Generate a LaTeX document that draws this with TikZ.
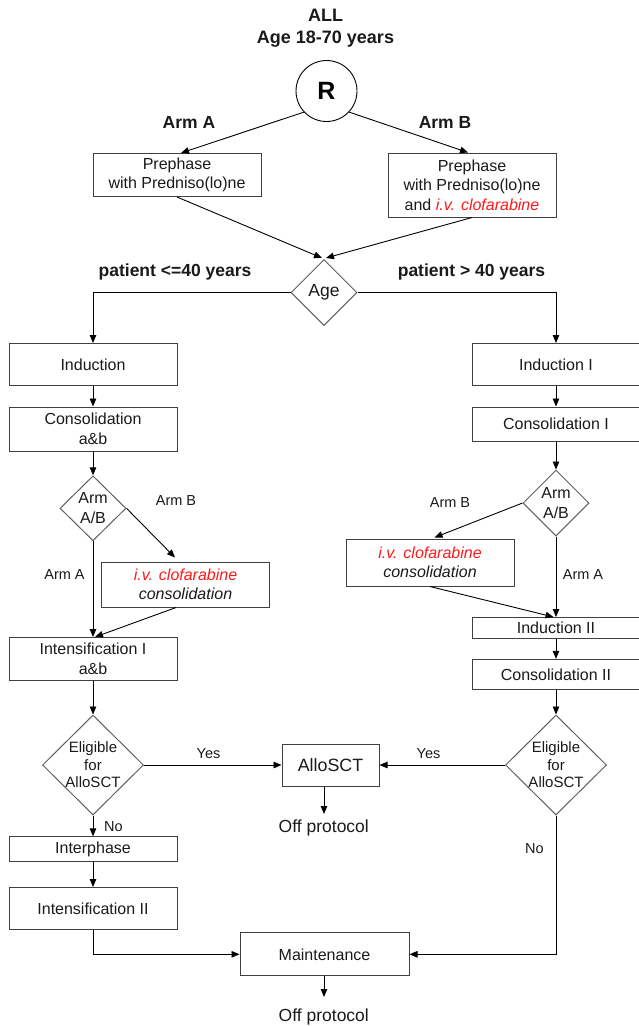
\documentclass[tikz,border=0pt]{standalone}
\usepackage{fontspec}
\setmainfont{Liberation Sans}
\usetikzlibrary{arrows.meta,shapes.geometric,calc}
\definecolor{edge}{HTML}{404040}
\definecolor{dedge}{HTML}{606060}
\definecolor{txt}{HTML}{1A1A1A}
\definecolor{clo}{HTML}{FF1A1A}
\begin{document}
\begin{tikzpicture}[x=1pt,y=-1pt,
  box/.style={draw=edge, line width=1pt, inner sep=0pt, align=center, text=txt,
    minimum width=168pt, font=\fontsize{16}{19.5}\selectfont},
  dia/.style={diamond, draw=dedge, line width=1pt, inner sep=0pt},
  dtext/.style={align=center, text=txt, inner sep=0pt},
  arr/.style={-{Triangle[length=8pt,width=6.5pt]}, line width=0.9pt, draw=black},
  lab/.style={text=txt, inner sep=0pt, font=\fontsize{14.5}{17}\selectfont},
  blab/.style={text=txt, inner sep=0pt, font=\bfseries\fontsize{17.5}{21}\selectfont},
  offp/.style={text=txt, inner sep=0pt, font=\fontsize{17.5}{21}\selectfont}]
\useasboundingbox (0,0) rectangle (638,1026);
\fill[white] (0,0) rectangle (638,1026);

% title
\node[blab, align=center, font=\bfseries\fontsize{18}{21.5}\selectfont] (title) at (325.5,28) {ALL\\Age 18-70 years};

% randomisation
\node[circle, draw=black, line width=0.9pt, minimum size=61pt, inner sep=0pt,
  text=black, font=\bfseries\fontsize{25}{30}\selectfont] (R) at (326.5,91) {R};
\node[blab] (armA) at (189,122) {Arm A};
\node[blab] (armB) at (445,122) {Arm B};

\node[box, minimum height=43pt] (preA) at (177,175) {Prephase\\with Predniso(lo)ne};
\node[box, minimum height=64pt] (preB) at (472,185) {Prephase\\with Predniso(lo)ne\\and \textcolor{clo}{\itshape i.v. clofarabine}};

\draw[arr] (R.223) -- ($(preA.north)+(4,0)$);
\draw[arr] (R.-43) -- ($(preB.north)+(-4,0)$);

% age split
\node[dia, minimum width=66pt, minimum height=66pt,
  label={[dtext, font=\fontsize{17.5}{21}\selectfont]center:Age}] (age) at (324,292.5) {};
\draw[arr] (preA.south) -- ($(age.north)+(-2,-1)$);
\draw[arr] (preB.south) -- ($(age.north)+(2,-1)$);
\node[blab] (young) at (175,271.5) {patient <=40 years};
\node[blab] (old) at (471.5,271.5) {patient > 40 years};

% left branch
\node[box, minimum height=42pt] (ind) at (93,364.5) {Induction};
\node[box, minimum height=44pt] (consab) at (93,429) {Consolidation\\a\&b};
\node[dia, minimum width=66pt, minimum height=65pt,
  label={[dtext, font=\fontsize{16}{19.7}\selectfont]center:Arm\\A/B}] (armL) at (93,508.3) {};
\node[box, minimum height=45pt, font=\itshape\fontsize{16}{19.5}\selectfont] (clofL) at (185.5,584.5) {\textcolor{clo}{i.v. clofarabine}\\consolidation};
\node[box, minimum height=43pt] (intI) at (93,659) {Intensification I\\a\&b};
\node[dia, minimum width=101pt, minimum height=100pt,
  label={[dtext, font=\fontsize{15}{17.5}\selectfont]center:Eligible\\for\\AlloSCT}] (eligL) at (93,765) {};
\node[box, minimum height=25pt] (interph) at (93,849.3) {Interphase};
\node[box, minimum height=42pt] (intII) at (93,908.5) {Intensification II};

\draw[arr] (age.west) -| (ind.north);
\draw[arr] (ind) -- (consab);
\draw[arr] (consab) -- (armL.north);
\draw[arr] (armL.east) -- ($(clofL.north)+(-10.5,-4)$);
\node[lab] (lArmB) at (176,501) {Arm B};
\draw[arr] (armL.south) -- (intI.north);
\node[lab] (lArmA) at (64.5,575) {Arm A};
\draw[arr] ($(clofL.south)+(-9.5,0)$) -- ($(intI.north)+(2,0)$);
\draw[arr] (intI) -- (eligL.north);
\draw[arr] (eligL.south) -- (interph.north);
\node[lab] (lNo) at (113.5,827) {No};
\draw[arr] (interph) -- (intII);

% right branch
\node[box, minimum height=42pt] (indI) at (556,364.5) {Induction I};
\node[box, minimum height=34pt] (consI) at (556,424) {Consolidation I};
\node[dia, minimum width=66pt, minimum height=66pt,
  label={[dtext, font=\fontsize{16}{19.7}\selectfont]center:Arm\\A/B}] (armR) at (556,503) {};
\node[box, minimum height=47pt, font=\itshape\fontsize{16}{19.5}\selectfont] (clofR) at (430,562.5) {\textcolor{clo}{i.v. clofarabine}\\consolidation};
\node[box, minimum height=21pt] (indII) at (556,628) {Induction II};
\node[box, minimum height=30pt] (consII) at (556,674.3) {Consolidation II};
\node[dia, minimum width=101pt, minimum height=100pt,
  label={[dtext, font=\fontsize{15}{17.5}\selectfont]center:Eligible\\for\\AlloSCT}] (eligR) at (556,765) {};

\draw[arr] (age.east) -| (indI.north);
\draw[arr] (indI) -- (consI);
\draw[arr] (consI) -- (armR.north);
\draw[arr] (armR.west) -- ($(clofR.north)+(4.5,-1)$);
\node[lab] (rArmB) at (450,502.5) {Arm B};
\draw[arr] (armR.south) -- (indII.north);
\node[lab] (rArmA) at (583,575) {Arm A};
\draw[arr] (clofR.south) -- ($(indII.north)+(-2.5,0)$);
\draw[arr] (indII) -- (consII);
\draw[arr] (consII) -- (eligR.north);

% AlloSCT
\node[box, minimum width=97pt, minimum height=42pt, font=\fontsize{17.8}{21}\selectfont] (allo) at (330.5,765) {AlloSCT};
\draw[arr] (eligL.east) -- (allo.west);
\node[lab] (yesL) at (208.5,754) {Yes};
\draw[arr] (eligR.west) -- (allo.east);
\node[lab] (yesR) at (428.5,754) {Yes};
\coordinate (offA) at (324,814);
\draw[arr] (allo.south -| offA) -- (offA);
\node[offp] (off1) at (323.8,827.5) {Off protocol};

% Maintenance
\node[box, minimum width=169pt, minimum height=43pt] (maint) at (324.5,954.3) {Maintenance};
\draw[arr] (intII.south) |- (maint.west);
\draw[arr] (eligR.south) |- (maint.east);
\node[lab] (rNo) at (534.5,849) {No};
\coordinate (offB) at (324,997);
\draw[arr] (maint.south -| offB) -- (offB);
\node[offp] (off2) at (323.8,1016.5) {Off protocol};
\end{tikzpicture}
\end{document}
